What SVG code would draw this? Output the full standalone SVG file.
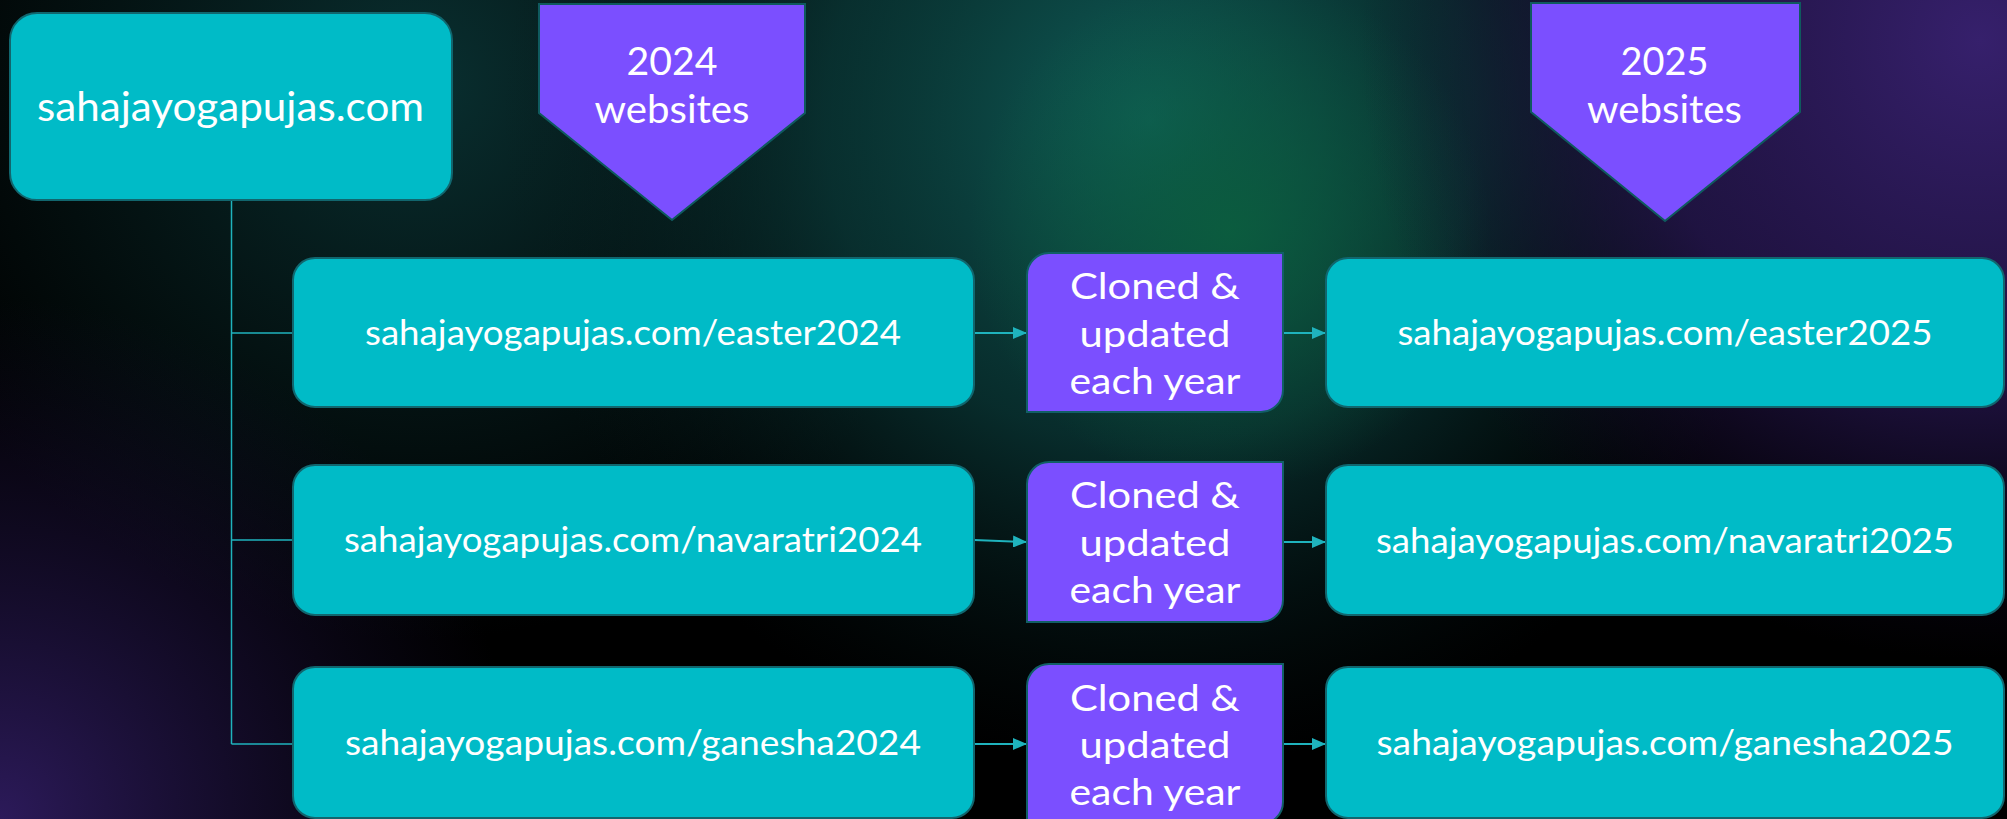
<svg xmlns="http://www.w3.org/2000/svg" width="2007" height="819" viewBox="0 0 2007 819">
<defs>
<radialGradient id="gTeal" cx="1150" cy="120" r="650" gradientUnits="userSpaceOnUse">
<stop offset="0" stop-color="#0f5d58" stop-opacity="1"/>
<stop offset="0.5" stop-color="#0b3f3e" stop-opacity="0.7"/>
<stop offset="1" stop-color="#061a1c" stop-opacity="0"/>
</radialGradient>
<radialGradient id="gGreen" cx="1230" cy="230" r="260" gradientUnits="userSpaceOnUse">
<stop offset="0" stop-color="#0b5e3e" stop-opacity="0.9"/>
<stop offset="1" stop-color="#0b5e3e" stop-opacity="0"/>
</radialGradient>
<radialGradient id="gPurpTR" cx="1980" cy="40" r="620" gradientUnits="userSpaceOnUse">
<stop offset="0" stop-color="#36206c" stop-opacity="1"/>
<stop offset="0.55" stop-color="#26164f" stop-opacity="0.8"/>
<stop offset="1" stop-color="#150b2c" stop-opacity="0"/>
</radialGradient>
<radialGradient id="gPurpBL" cx="0" cy="819" r="520" gradientUnits="userSpaceOnUse">
<stop offset="0" stop-color="#2c1a5a" stop-opacity="1"/>
<stop offset="1" stop-color="#1a1038" stop-opacity="0"/>
</radialGradient>
<radialGradient id="gDarkTeal" cx="420" cy="80" r="560" gradientUnits="userSpaceOnUse">
<stop offset="0" stop-color="#0a3536" stop-opacity="0.9"/>
<stop offset="1" stop-color="#0a2a2a" stop-opacity="0"/>
</radialGradient>
<marker id="arr" markerUnits="userSpaceOnUse" markerWidth="14" markerHeight="12" refX="14" refY="6" orient="auto">
<path d="M0,0 L14,6 L0,12 Z" fill="#1fb3bd"/>
</marker>
<style>
.tbox{fill:#00bbc7;stroke:#11666e;stroke-width:2}
.pbox{fill:#7b4fff;stroke:#115f66;stroke-width:2}
.chev{fill:#7b4fff;stroke:#0f5a5e;stroke-width:2}
.t{font-family:Lato,"Open Sans",sans-serif;fill:#ffffff;text-anchor:middle}
.root{font-size:41px}
.row{font-size:34px}
.pt{font-size:37px}
.ct{font-size:39px}
.br{stroke:#1fb3bd;stroke-width:1.5;fill:none}
.ar{stroke:#1fb3bd;stroke-width:2;fill:none;marker-end:url(#arr)}
</style>
</defs>
<rect x="0" y="0" width="2007" height="819" fill="#000000"/>
<rect x="0" y="0" width="2007" height="819" fill="url(#gDarkTeal)"/>
<rect x="0" y="0" width="2007" height="819" fill="url(#gTeal)"/>
<rect x="0" y="0" width="2007" height="819" fill="url(#gGreen)"/>
<rect x="0" y="0" width="2007" height="819" fill="url(#gPurpTR)"/>
<rect x="0" y="0" width="2007" height="819" fill="url(#gPurpBL)"/>

<g id="connectors">
<path class="br" d="M231.5,200 V744 M231.5,333 H293 M231.5,540 H293 M231.5,744 H293"/>
<line class="ar" x1="974" y1="333" x2="1027" y2="333"/>
<line class="ar" x1="1283" y1="333" x2="1326" y2="333"/>
<line class="ar" x1="974" y1="540" x2="1027" y2="542"/>
<line class="ar" x1="1283" y1="542" x2="1326" y2="542"/>
<line class="ar" x1="974" y1="744" x2="1027" y2="744"/>
<line class="ar" x1="1283" y1="744" x2="1326" y2="744"/>
</g>

<g id="root">
<rect class="tbox" x="10" y="13" width="442" height="187" rx="27"/>
<text class="t root" x="230.5" y="121" textLength="387" lengthAdjust="spacingAndGlyphs">sahajayogapujas.com</text>
</g>

<g id="label2024">
<polygon class="chev" points="539,4 805,4 805,113 672,220 539,113"/>
<text class="t ct" x="672" y="75" textLength="91" lengthAdjust="spacingAndGlyphs">2024</text>
<text class="t ct" x="672" y="123" textLength="155" lengthAdjust="spacingAndGlyphs">websites</text>
</g>

<g id="label2025">
<polygon class="chev" points="1531,3 1800,3 1800,112 1665,221 1531,112"/>
<text class="t ct" x="1664.5" y="75" textLength="88" lengthAdjust="spacingAndGlyphs">2025</text>
<text class="t ct" x="1664.5" y="123" textLength="155" lengthAdjust="spacingAndGlyphs">websites</text>
</g>

<g id="easter2024">
<rect class="tbox" x="293" y="258" width="681" height="149" rx="22"/>
<text class="t row" x="633" y="345" textLength="536" lengthAdjust="spacingAndGlyphs">sahajayogapujas.com/easter2024</text>
</g>
<g id="navaratri2024">
<rect class="tbox" x="293" y="465" width="681" height="150" rx="22"/>
<text class="t row" x="633" y="552" textLength="578" lengthAdjust="spacingAndGlyphs">sahajayogapujas.com/navaratri2024</text>
</g>
<g id="ganesha2024">
<rect class="tbox" x="293" y="667" width="681" height="151" rx="22"/>
<text class="t row" x="633" y="755" textLength="576" lengthAdjust="spacingAndGlyphs">sahajayogapujas.com/ganesha2024</text>
</g>

<g id="clone1">
<path class="pbox" d="M1027,275 A22,22 0 0 1 1049,253 H1283 V390 A22,22 0 0 1 1261,412 H1027 Z"/>
<text class="t pt" x="1155" y="299" textLength="170" lengthAdjust="spacingAndGlyphs">Cloned &amp;</text>
<text class="t pt" x="1155" y="347" textLength="151" lengthAdjust="spacingAndGlyphs">updated</text>
<text class="t pt" x="1155" y="394" textLength="171" lengthAdjust="spacingAndGlyphs">each year</text>
</g>
<g id="clone2">
<path class="pbox" d="M1027,484 A22,22 0 0 1 1049,462 H1283 V600 A22,22 0 0 1 1261,622 H1027 Z"/>
<text class="t pt" x="1155" y="508" textLength="170" lengthAdjust="spacingAndGlyphs">Cloned &amp;</text>
<text class="t pt" x="1155" y="556" textLength="151" lengthAdjust="spacingAndGlyphs">updated</text>
<text class="t pt" x="1155" y="603" textLength="171" lengthAdjust="spacingAndGlyphs">each year</text>
</g>
<g id="clone3">
<path class="pbox" d="M1027,686 A22,22 0 0 1 1049,664 H1283 V802 A22,22 0 0 1 1261,824 H1027 Z"/>
<text class="t pt" x="1155" y="711" textLength="170" lengthAdjust="spacingAndGlyphs">Cloned &amp;</text>
<text class="t pt" x="1155" y="758" textLength="151" lengthAdjust="spacingAndGlyphs">updated</text>
<text class="t pt" x="1155" y="805" textLength="171" lengthAdjust="spacingAndGlyphs">each year</text>
</g>

<g id="easter2025">
<rect class="tbox" x="1326" y="258" width="678" height="149" rx="22"/>
<text class="t row" x="1665" y="345" textLength="535" lengthAdjust="spacingAndGlyphs">sahajayogapujas.com/easter2025</text>
</g>
<g id="navaratri2025">
<rect class="tbox" x="1326" y="465" width="678" height="150" rx="22"/>
<text class="t row" x="1665" y="553" textLength="578" lengthAdjust="spacingAndGlyphs">sahajayogapujas.com/navaratri2025</text>
</g>
<g id="ganesha2025">
<rect class="tbox" x="1326" y="667" width="678" height="151" rx="22"/>
<text class="t row" x="1665" y="755" textLength="577" lengthAdjust="spacingAndGlyphs">sahajayogapujas.com/ganesha2025</text>
</g>
</svg>
